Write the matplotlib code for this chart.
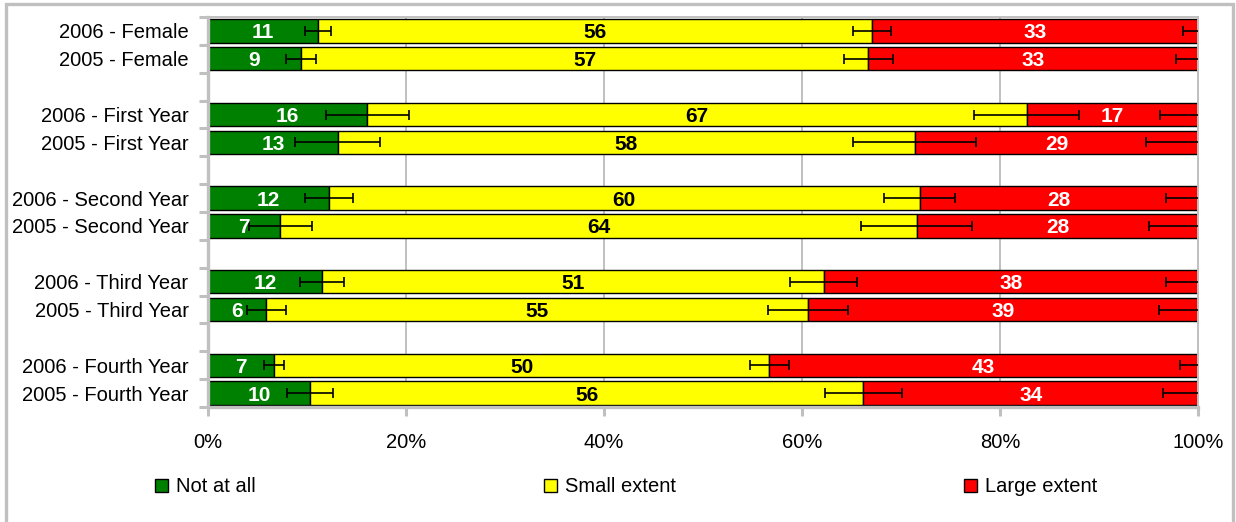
import numpy as np
import matplotlib
matplotlib.use("Agg")
import matplotlib.pyplot as plt
from matplotlib.patches import Patch, Rectangle

plt.rcParams['font.family'] = ['Liberation Sans', 'DejaVu Sans']

# rows top to bottom
labels = ['2006 - Female', '2005 - Female',
          '2006 - First Year', '2005 - First Year',
          '2006 - Second Year', '2005 - Second Year',
          '2006 - Third Year', '2005 - Third Year',
          '2006 - Fourth Year', '2005 - Fourth Year']
slots = [0, 1, 3, 4, 6, 7, 9, 10, 12, 13]   # blank slot between groups

not_at_all = [11.1, 9.4, 16.1, 13.1, 12.2, 7.3, 11.5, 5.9, 6.7, 10.3]
small_ext = [56.0, 57.3, 66.6, 58.3, 59.7, 64.3, 50.7, 54.7, 50.0, 55.9]
large_ext = [32.9, 33.3, 17.3, 28.6, 28.1, 28.4, 37.8, 39.4, 43.3, 33.8]

err_not = [1.3, 1.5, 4.2, 4.3, 2.4, 3.2, 2.2, 2.0, 1.0, 2.3]
err_small = [1.9, 2.5, 5.3, 6.2, 3.6, 5.6, 3.4, 4.0, 2.0, 3.9]
err_large = [1.5, 2.2, 3.8, 5.3, 3.2, 5.0, 3.2, 3.9, 1.8, 3.5]

series = ['Not at all', 'Small extent', 'Large extent']
colors = ['#008000', '#FFFF00', '#FF0000']
txtcol = ['white', 'black', 'white']

gray = '#c0c0c0'

fig = plt.figure(figsize=(12.36, 5.22), dpi=100)
ax = fig.add_axes([208/1236, 1-407/522, 990/1236, 390/522])

y = np.array(slots)
vals = [np.array(not_at_all), np.array(small_ext), np.array(large_ext)]
errs = [err_not, err_small, err_large]
left = np.zeros(len(y))
for v, e, c, tc in zip(vals, errs, colors, txtcol):
    ax.barh(y, v, height=0.84, left=left, color=c, edgecolor='black',
            linewidth=1, zorder=2)
    ends = left + v
    ax.errorbar(ends, y, xerr=e, fmt='none', ecolor='black', elinewidth=1.2,
                capsize=3.5, capthick=1.2, zorder=4)
    for yy, l, w in zip(y, left, v):
        ax.text(l + w/2, yy, '%.0f' % w, ha='center', va='center_baseline',
                color=tc, fontsize=15, fontweight='bold', zorder=5)
    left = ends

ax.set_xlim(0, 100)
ax.set_ylim(13.5, -0.5)
ax.set_xticks([0, 20, 40, 60, 80, 100])
ax.set_xticklabels(['0%', '20%', '40%', '60%', '80%', '100%'], fontsize=14.5)
ax.set_yticks(y)
ax.set_yticklabels(labels, fontsize=14.5)
ax.set_yticks(np.arange(-0.5, 14, 1), minor=True)
ax.tick_params(axis='y', which='major', length=0, pad=14)
ax.tick_params(axis='y', which='minor', length=6.5, width=2.2, color=gray)
ax.tick_params(axis='x', length=6.5, width=2.2, color=gray, pad=12)
ax.xaxis.grid(True, color=gray, linewidth=1.4, zorder=0)
ax.set_axisbelow(True)

for s in ['left', 'bottom']:
    ax.spines[s].set_color(gray)
    ax.spines[s].set_linewidth(2.4)
for s in ['top', 'right']:
    ax.spines[s].set_color(gray)
    ax.spines[s].set_linewidth(1.4)

handles = [Patch(facecolor=c, edgecolor='black', linewidth=1) for c in colors]
fig.legend(handles, series, loc='center left', ncol=3,
           bbox_to_anchor=(155/1236, 1-487/522), frameon=False,
           fontsize=14.5, handlelength=0.65, handleheight=0.65,
           handletextpad=0.4, columnspacing=14.3, borderpad=0,
           borderaxespad=0)

# outer chart frame (bottom edge runs off the image)
fig.patches.append(Rectangle((6/1236, -0.05), 1227/1236, 1.05 - 4/522,
                             transform=fig.transFigure, fill=False,
                             edgecolor=gray, linewidth=2.4))

fig.savefig('out.png', dpi=100)
